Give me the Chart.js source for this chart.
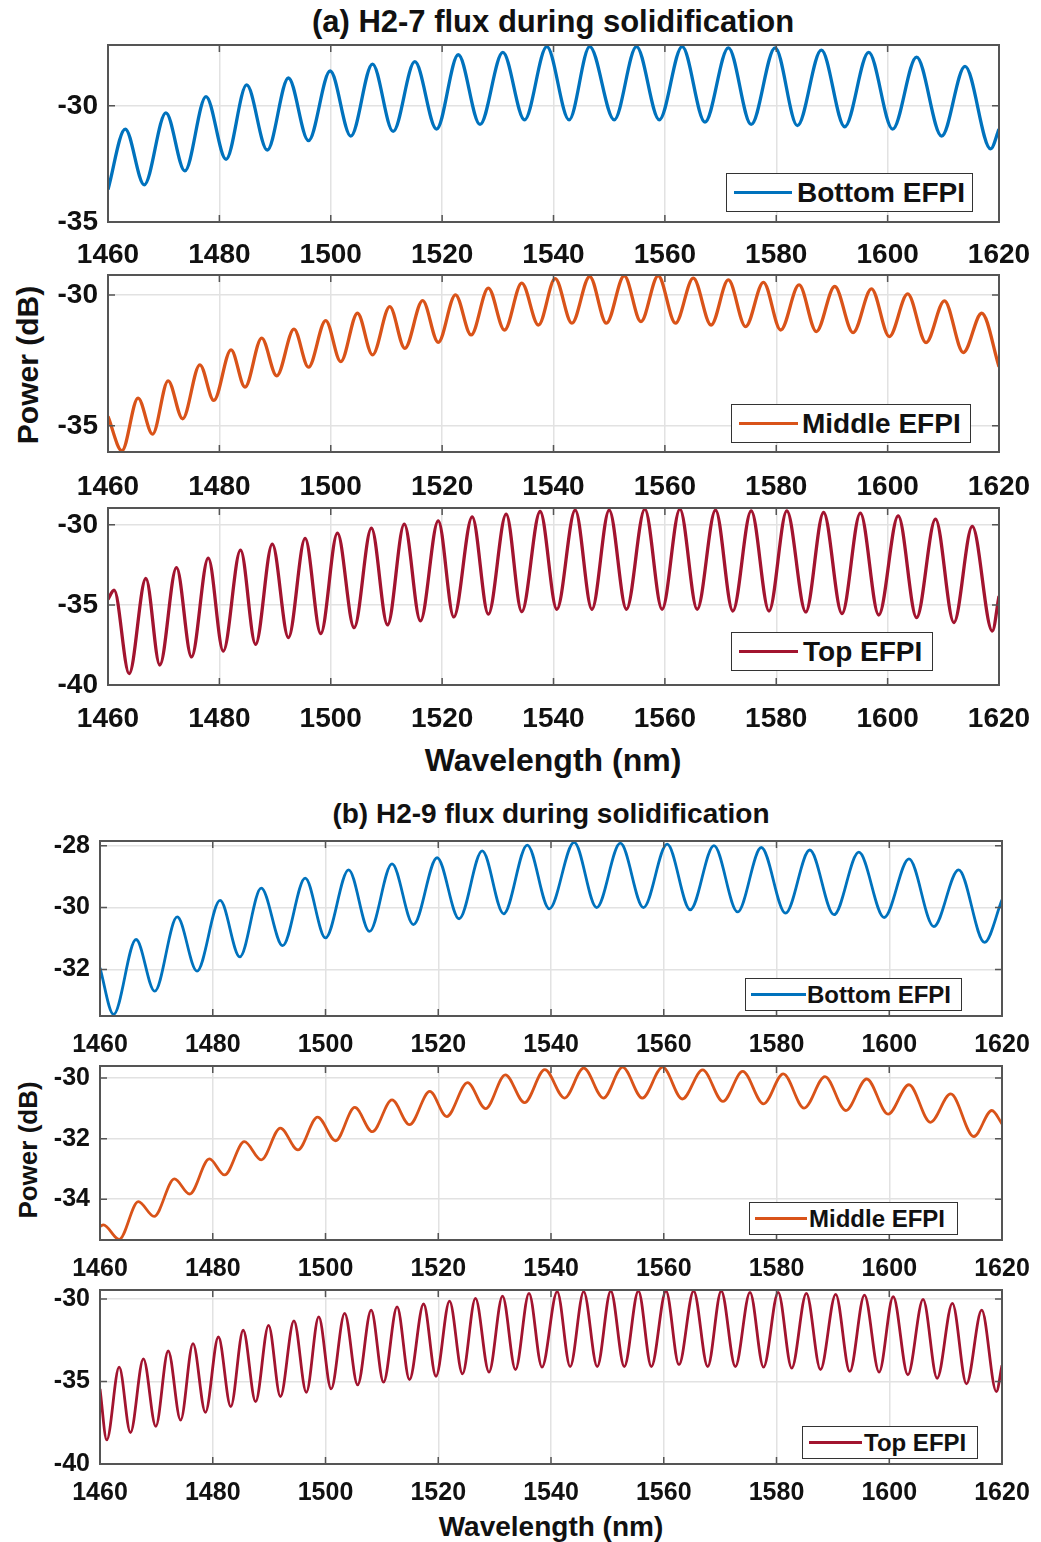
<!DOCTYPE html>
<html>
<head>
<meta charset="utf-8">
<script src="https://cdn.jsdelivr.net/npm/chart.js@4.4.1/dist/chart.umd.min.js"></script>
<style>
  body { margin: 0; background: #fff; }
  #page { position: relative; width: 1041px; height: 1542px; overflow: hidden; font-family: "Liberation Sans", Arial, sans-serif; font-weight: bold; color: #111; }
  canvas { position: absolute; left: 0; }
  .txt { position: absolute; white-space: nowrap; transform: translate(-50%, -50%); }
  .ylab { position: absolute; white-space: nowrap; transform: translate(-50%, -50%) rotate(-90deg); }
  .leg { position: absolute; border: 1.5px solid #333; background: #fff; box-sizing: border-box; }
  .leg span.ln { position: absolute; top: 50%; height: 3px; margin-top: -1.5px; }
  .leg span.lt { position: absolute; top: 50%; transform: translateY(-50%); white-space: nowrap; }
</style>
</head>
<body>
<div id="page">
  <div class="txt" style="left:553px; top:22px; font-size:31px;">(a) H2-7 flux during solidification</div>
  <div class="ylab" style="left:28px; top:365px; font-size:30px;">Power (dB)</div>
  <div class="txt" style="left:553px; top:760px; font-size:32px;">Wavelength (nm)</div>

  <div class="txt" style="left:551px; top:814px; font-size:28px;">(b) H2-9 flux during solidification</div>
  <div class="ylab" style="left:28px; top:1150px; font-size:26px;">Power (dB)</div>
  <div class="txt" style="left:551px; top:1527px; font-size:28px;">Wavelength (nm)</div>
</div>
<script>
// Wellenlaenge (nm), Leistung (dB): Extrema
const xTicks = [1460, 1480, 1500, 1520, 1540, 1560, 1580, 1600, 1620];

// (a) H2-7
const aBottom = [[1460,-33.6],[1463.1,-31.0],[1466.5,-33.4],[1470.4,-30.3],[1473.8,-32.8],[1477.6,-29.6],[1481.2,-32.3],[1484.9,-29.1],[1488.6,-31.9],[1492.4,-28.8],[1496.0,-31.5],[1499.9,-28.5],[1503.6,-31.3],[1507.5,-28.2],[1511.2,-31.1],[1515.1,-28.1],[1519.0,-31.0],[1522.9,-27.8],[1526.8,-30.8],[1530.9,-27.7],[1534.8,-30.6],[1538.8,-27.45],[1542.8,-30.6],[1546.5,-27.45],[1550.9,-30.6],[1554.9,-27.45],[1559.0,-30.6],[1563.1,-27.45],[1567.2,-30.7],[1571.4,-27.5],[1575.5,-30.8],[1579.8,-27.5],[1583.8,-30.85],[1588.1,-27.6],[1592.3,-30.9],[1596.6,-27.7],[1600.9,-31.0],[1605.2,-27.9],[1609.7,-31.3],[1613.9,-28.3],[1618.5,-31.85],[1620,-31.0]];
const aMiddle = [[1460,-34.64],[1462.5,-35.95],[1465.4,-33.94],[1468.0,-35.32],[1470.8,-33.28],[1473.4,-34.73],[1476.5,-32.67],[1479.0,-34.03],[1482.1,-32.1],[1484.6,-33.52],[1487.6,-31.65],[1490.3,-33.09],[1493.4,-31.31],[1496.0,-32.76],[1499.1,-30.98],[1501.8,-32.55],[1504.8,-30.7],[1507.5,-32.29],[1510.6,-30.45],[1513.3,-32.04],[1516.5,-30.22],[1519.3,-31.81],[1522.4,-30.0],[1525.2,-31.53],[1528.3,-29.74],[1531.2,-31.34],[1534.3,-29.55],[1537.3,-31.15],[1540.3,-29.38],[1543.3,-31.08],[1546.5,-29.3],[1549.5,-31.08],[1552.7,-29.27],[1555.7,-31.02],[1558.8,-29.27],[1561.9,-31.08],[1565.1,-29.36],[1568.3,-31.15],[1571.4,-29.43],[1574.5,-31.21],[1577.7,-29.52],[1580.8,-31.34],[1584.1,-29.62],[1587.2,-31.4],[1590.5,-29.68],[1593.8,-31.44],[1597.1,-29.77],[1600.3,-31.59],[1603.6,-29.96],[1606.9,-31.82],[1610.2,-30.23],[1613.6,-32.2],[1616.9,-30.7],[1620,-32.74]];
const aTop = [[1460,-34.65],[1461.1,-34.08],[1463.8,-39.29],[1466.8,-33.35],[1469.3,-38.75],[1472.3,-32.67],[1475.0,-38.25],[1478.0,-32.08],[1480.7,-37.88],[1483.8,-31.58],[1486.5,-37.46],[1489.5,-31.21],[1492.4,-37.04],[1495.4,-30.85],[1498.2,-36.79],[1501.2,-30.52],[1504.2,-36.42],[1507.3,-30.21],[1510.2,-36.25],[1513.2,-29.96],[1516.1,-36.0],[1519.3,-29.75],[1522.1,-35.75],[1525.4,-29.5],[1528.3,-35.58],[1531.5,-29.33],[1534.3,-35.42],[1537.6,-29.17],[1540.6,-35.27],[1543.9,-29.08],[1546.9,-35.27],[1550.0,-29.08],[1553.1,-35.27],[1556.4,-29.02],[1559.5,-35.27],[1562.7,-29.02],[1565.8,-35.27],[1569.1,-29.08],[1572.2,-35.38],[1575.5,-29.13],[1578.7,-35.38],[1581.9,-29.13],[1585.3,-35.44],[1588.5,-29.23],[1591.8,-35.54],[1595.1,-29.27],[1598.4,-35.63],[1601.9,-29.44],[1605.2,-35.79],[1608.6,-29.64],[1611.9,-36.1],[1615.2,-30.1],[1618.8,-36.63],[1620,-34.44]];

// (b) H2-9
const bBottom = [[1460,-31.95],[1462.4,-33.45],[1466.4,-31.03],[1469.7,-32.7],[1473.7,-30.3],[1477.2,-32.05],[1481.3,-29.77],[1484.8,-31.59],[1488.6,-29.37],[1492.4,-31.23],[1496.4,-29.05],[1500.0,-30.98],[1504.1,-28.78],[1507.8,-30.77],[1511.8,-28.59],[1515.6,-30.55],[1519.8,-28.39],[1523.7,-30.36],[1527.8,-28.17],[1531.6,-30.2],[1535.8,-27.98],[1539.7,-30.04],[1544.1,-27.89],[1548.1,-30.0],[1552.3,-27.92],[1556.4,-30.0],[1560.6,-27.95],[1564.7,-30.07],[1568.9,-28.0],[1573.1,-30.14],[1577.3,-28.06],[1581.6,-30.18],[1585.9,-28.14],[1590.2,-30.23],[1594.6,-28.21],[1599.1,-30.32],[1603.5,-28.43],[1607.9,-30.61],[1612.3,-28.78],[1616.9,-31.12],[1620,-29.75]];
const bMiddle = [[1460,-34.9],[1460.6,-34.85],[1463.4,-35.33],[1466.8,-34.08],[1469.6,-34.57],[1473.2,-33.33],[1475.9,-33.83],[1479.4,-32.67],[1482.1,-33.2],[1485.6,-32.1],[1488.6,-32.7],[1492.0,-31.65],[1495.1,-32.37],[1498.6,-31.29],[1501.8,-32.07],[1505.2,-30.97],[1508.3,-31.77],[1511.8,-30.72],[1514.9,-31.54],[1518.5,-30.44],[1521.5,-31.27],[1525.2,-30.15],[1528.4,-31.01],[1531.9,-29.89],[1535.3,-30.81],[1538.9,-29.72],[1542.4,-30.66],[1545.8,-29.67],[1549.3,-30.66],[1552.7,-29.64],[1556.2,-30.66],[1559.8,-29.64],[1563.3,-30.69],[1566.9,-29.73],[1570.5,-30.77],[1574.0,-29.78],[1577.7,-30.85],[1581.2,-29.86],[1584.9,-30.99],[1588.6,-29.95],[1592.3,-31.07],[1596.0,-30.03],[1599.8,-31.19],[1603.5,-30.22],[1607.3,-31.46],[1610.9,-30.52],[1615.0,-31.93],[1618.2,-31.07],[1620,-31.51]];
const bTop = [[1460,-35.45],[1461.2,-38.54],[1463.4,-34.13],[1465.4,-38.09],[1467.7,-33.62],[1469.9,-37.72],[1472.1,-33.15],[1474.3,-37.34],[1476.5,-32.7],[1478.7,-36.87],[1481.0,-32.3],[1483.2,-36.52],[1485.4,-31.89],[1487.6,-36.22],[1489.9,-31.59],[1492.0,-35.91],[1494.4,-31.32],[1496.6,-35.65],[1498.8,-31.08],[1501.0,-35.45],[1503.4,-30.87],[1505.7,-35.2],[1508.1,-30.67],[1510.3,-35.04],[1512.7,-30.47],[1514.9,-34.88],[1517.4,-30.3],[1519.6,-34.68],[1522.0,-30.12],[1524.3,-34.53],[1526.6,-29.96],[1529.0,-34.43],[1531.4,-29.82],[1533.7,-34.27],[1536.1,-29.65],[1538.4,-34.13],[1541.1,-29.55],[1543.4,-34.09],[1545.8,-29.55],[1548.2,-34.09],[1550.6,-29.51],[1553.0,-34.09],[1555.5,-29.51],[1557.8,-34.09],[1560.4,-29.51],[1562.7,-33.98],[1565.3,-29.51],[1567.8,-34.09],[1570.2,-29.51],[1572.7,-34.09],[1575.3,-29.59],[1577.7,-34.13],[1580.3,-29.59],[1582.7,-34.19],[1585.3,-29.65],[1587.8,-34.27],[1590.5,-29.71],[1593.0,-34.39],[1595.6,-29.76],[1598.2,-34.43],[1600.7,-29.86],[1603.3,-34.59],[1606.0,-30.02],[1608.5,-34.8],[1611.2,-30.26],[1613.7,-35.14],[1616.4,-30.67],[1619.0,-35.61],[1620,-34.02]];

const blue = '#0072BD', orange = '#D95319', red = '#A2142F';

// Rahmen + Striche nach innen (MATLAB-Stil)
const boxPlugin = {
  id: 'box',
  afterDraw(chart) {
    const ctx = chart.ctx, a = chart.chartArea;
    const xs = chart.scales.x, ys = chart.scales.y;
    ctx.save();
    ctx.strokeStyle = '#555';
    ctx.lineWidth = 2;
    ctx.strokeRect(a.left, a.top, a.right - a.left, a.bottom - a.top);
    ctx.lineWidth = 1.5;
    ctx.beginPath();
    xs.ticks.forEach(t => {
      const px = xs.getPixelForValue(t.value);
      ctx.moveTo(px, a.bottom); ctx.lineTo(px, a.bottom - 7);
      ctx.moveTo(px, a.top); ctx.lineTo(px, a.top + 7);
    });
    ys.ticks.forEach(t => {
      const py = ys.getPixelForValue(t.value);
      ctx.moveTo(a.left, py); ctx.lineTo(a.left + 7, py);
      ctx.moveTo(a.right, py); ctx.lineTo(a.right - 7, py);
    });
    ctx.stroke();
    ctx.restore();
  }
};

function panel(cfg) {
  const page = document.getElementById('page');
  const padTop = 8, xAxisH = 52;
  const cv = document.createElement('canvas');
  cv.width = 1041;
  cv.height = cfg.b - cfg.t + padTop + xAxisH;
  cv.style.top = (cfg.t - padTop) + 'px';
  page.appendChild(cv);

  new Chart(cv.getContext('2d'), {
    type: 'line',
    data: {
      datasets: [{
        data: cfg.data.map(p => ({ x: p[0], y: p[1] })),
        borderColor: cfg.color,
        borderWidth: cfg.lw,
        pointRadius: 0,
        cubicInterpolationMode: 'monotone',
        fill: false
      }]
    },
    options: {
      responsive: false,
      animation: false,
      events: [],
      layout: { padding: { top: padTop, right: 1041 - cfg.r, left: 0, bottom: 0 } },
      plugins: { legend: { display: false }, tooltip: { enabled: false } },
      scales: {
        x: {
          type: 'linear', min: 1460, max: 1620,
          afterBuildTicks: s => { s.ticks = xTicks.map(v => ({ value: v })); },
          afterFit: s => { s.height = xAxisH; s.paddingLeft = 0; s.paddingRight = 0; },
          grid: { color: '#e2e2e2', lineWidth: 1.5, drawTicks: false },
          border: { display: false },
          ticks: { color: '#111', font: { family: 'Liberation Sans', weight: 'bold', size: cfg.fs }, padding: cfg.xpad,
                   maxRotation: 0, autoSkip: false, callback: v => String(v) }
        },
        y: {
          type: 'linear', min: cfg.ymin, max: cfg.ymax,
          afterBuildTicks: s => { s.ticks = cfg.yTicks.map(v => ({ value: v })); },
          afterFit: s => { s.width = cfg.l; s.paddingTop = 0; s.paddingBottom = 0; },
          grid: { color: '#e2e2e2', lineWidth: 1.5, drawTicks: false },
          border: { display: false },
          ticks: { color: '#111', font: { family: 'Liberation Sans', weight: 'bold', size: cfg.fs }, padding: 10,
                   callback: v => String(v) }
        }
      }
    },
    plugins: [boxPlugin]
  });

  // Legende im Plotbereich
  const lg = cfg.leg;
  const box = document.createElement('div');
  box.className = 'leg';
  box.style.cssText = `left:${lg.x}px;top:${lg.y}px;width:${lg.w}px;height:${lg.h}px;font-size:${lg.fs}px;`;
  box.innerHTML = `<span class="ln" style="left:${lg.lx}px;width:${lg.lw}px;background:${cfg.color}"></span>` +
                  `<span class="lt" style="left:${lg.tx}px">${cfg.label}</span>`;
  page.appendChild(box);
}

// (a)
panel({ data: aBottom, label: 'Bottom EFPI', color: blue, lw: 3.3, l: 108, t: 45, r: 999, b: 222,
        ymin: -35, ymax: -27.38, yTicks: [-35, -30], fs: 28, xpad: 16,
        leg: { x: 726, y: 173, w: 247, h: 39, fs: 28, lx: 7, lw: 58, tx: 70 } });
panel({ data: aMiddle, label: 'Middle EFPI', color: orange, lw: 3.3, l: 108, t: 275, r: 999, b: 452,
        ymin: -36, ymax: -29.24, yTicks: [-35, -30], fs: 28, xpad: 18,
        leg: { x: 731, y: 404, w: 240, h: 39, fs: 28, lx: 7, lw: 59, tx: 70 } });
panel({ data: aTop, label: 'Top EFPI', color: red, lw: 3.3, l: 108, t: 508, r: 999, b: 685,
        ymin: -40, ymax: -28.95, yTicks: [-40, -35, -30], fs: 28, xpad: 17,
        leg: { x: 731, y: 632, w: 202, h: 39, fs: 28, lx: 7, lw: 59, tx: 71 } });

// (b)
panel({ data: bBottom, label: 'Bottom EFPI', color: blue, lw: 2.8, l: 100, t: 841, r: 1002, b: 1016,
        ymin: -33.5, ymax: -27.85, yTicks: [-32, -30, -28], fs: 25, xpad: 14,
        leg: { x: 745, y: 978, w: 217, h: 33, fs: 24, lx: 5, lw: 55, tx: 61 } });
panel({ data: bMiddle, label: 'Middle EFPI', color: orange, lw: 2.8, l: 100, t: 1066, r: 1002, b: 1240,
        ymin: -35.35, ymax: -29.6, yTicks: [-34, -32, -30], fs: 25, xpad: 14,
        leg: { x: 749, y: 1202, w: 209, h: 33, fs: 24, lx: 5, lw: 52, tx: 59 } });
panel({ data: bTop, label: 'Top EFPI', color: red, lw: 2.8, l: 100, t: 1290, r: 1002, b: 1464,
        ymin: -40, ymax: -29.45, yTicks: [-40, -35, -30], fs: 25, xpad: 14,
        leg: { x: 802, y: 1426, w: 176, h: 33, fs: 24, lx: 6, lw: 53, tx: 61 } });
</script>
</body>
</html>
